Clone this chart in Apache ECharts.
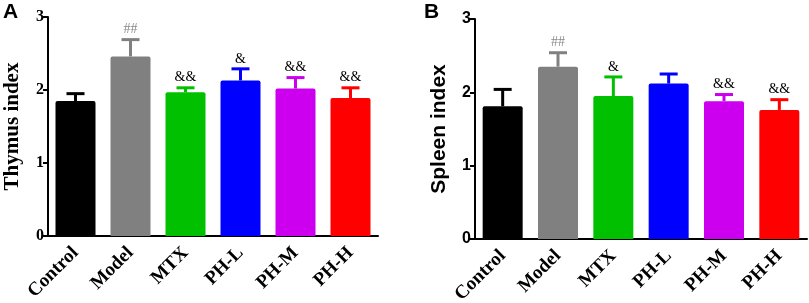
<!DOCTYPE html>
<html><head><meta charset="utf-8">
<script src="https://cdn.jsdelivr.net/npm/echarts@6/dist/echarts.min.js"></script>
<style>html,body{margin:0;padding:0;background:#fff}#c{width:809px;height:303px}</style>
</head><body><div id="c"></div>
<script>
const categories = ['Control','Model','MTX','PH-L','PH-M','PH-H'];
const colors = ['#000000','#808080','#00c000','#0000ff','#cc00ee','#ff0000'];
const thymusMean = [1.85, 2.46, 1.97, 2.13, 2.02, 1.89];
const thymusErr  = [1.95, 2.69, 2.03, 2.29, 2.17, 2.03];
const thymusMarks = ['', '##', '&&', '&', '&&', '&&'];
const spleenMean = [1.81, 2.35, 1.95, 2.12, 1.88, 1.76];
const spleenErr  = [2.04, 2.54, 2.21, 2.25, 1.97, 1.90];
const spleenMarks = ['', '##', '&', '', '&&', '&&'];
const yTicks = [0, 1, 2, 3];

const serif = '"Liberation Serif","Times New Roman",serif';
const sans = '"Liberation Sans",Arial,sans-serif';

function xAxis(gi){
  return {type:'category', gridIndex:gi, data:categories,
    axisLine:{lineStyle:{color:'#000',width:2}},
    axisTick:{alignWithLabel:true, length:5, lineStyle:{color:'#000',width:2}},
    axisLabel:{rotate:45, margin:14, color:'#000', fontFamily:serif, fontWeight:'bold', fontSize:19}};
}
function yAxis(gi, name, fam){
  return {type:'value', gridIndex:gi, min:yTicks[0], max:yTicks[yTicks.length-1], interval:1,
    name:name, nameLocation:'middle', nameGap:25,
    nameTextStyle:{color:'#000', fontFamily:fam, fontWeight:'bold', fontSize:21},
    axisLine:{show:true, lineStyle:{color:'#000',width:2}},
    axisTick:{show:true, length:5, lineStyle:{color:'#000',width:2}},
    axisLabel:{color:'#000', fontFamily:fam, fontWeight:'bold', fontSize:16, margin:4},
    splitLine:{show:false}};
}
function barSeries(gi, vals){
  return {type:'bar', xAxisIndex:gi, yAxisIndex:gi, barWidth:40, z:2,
    data: vals.map((v,i)=>({value:v, itemStyle:{color:colors[i], borderRadius:[2,2,0,0]}}))};
}
function errSeries(gi, mean, err, marks){
  return {type:'custom', xAxisIndex:gi, yAxisIndex:gi, z:1,
    data: mean.map((v,i)=>[i, v, err[i]]),
    renderItem:function(params, api){
      const i = api.value(0);
      const p0 = api.coord([i, api.value(1)]);
      const p1 = api.coord([i, api.value(2)]);
      const c = colors[i];
      const hw = 9;
      const mk = marks[i];
      const children = [
        {type:'line', shape:{x1:p0[0], y1:p0[1], x2:p1[0], y2:p1[1]}, style:{stroke:c, lineWidth:3}},
        {type:'line', shape:{x1:p1[0]-hw, y1:p1[1], x2:p1[0]+hw, y2:p1[1]}, style:{stroke:c, lineWidth:3}}
      ];
      if (mk) children.push({type:'text', x:p1[0], y:p1[1]-10,
        style:{text:mk, fill: mk==='##' ? '#888' : '#000', font:'14px '+serif, align:'center', verticalAlign:'middle'}});
      return {type:'group', children:children};
    }};
}

const chart = echarts.init(document.getElementById('c'), null, {renderer:'canvas'});
chart.setOption({
  animation:false,
  backgroundColor:'#fff',
  graphic:[
    {type:'text', left:3, top:2, style:{text:'A', font:'bold 21px '+sans, fill:'#000'}},
    {type:'text', left:424, top:2, style:{text:'B', font:'bold 21px '+sans, fill:'#000'}}
  ],
  grid:[
    {left:48, width:330, top:17, bottom:67, outerBoundsMode:'none', containLabel:false},
    {left:475, width:332, top:19, bottom:64, outerBoundsMode:'none', containLabel:false}
  ],
  xAxis:[xAxis(0), xAxis(1)],
  yAxis:[yAxis(0,'Thymus index',serif), yAxis(1,'Spleen index',sans)],
  series:[
    barSeries(0, thymusMean), errSeries(0, thymusMean, thymusErr, thymusMarks),
    barSeries(1, spleenMean), errSeries(1, spleenMean, spleenErr, spleenMarks)
  ]
});
</script></body></html>
